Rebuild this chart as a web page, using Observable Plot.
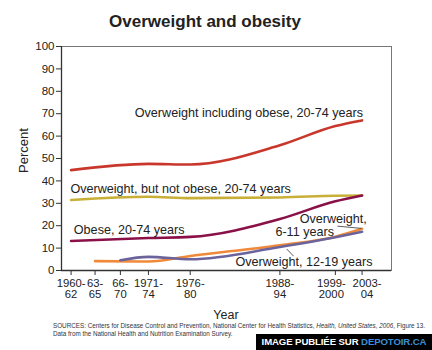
<!DOCTYPE html>
<html><head><meta charset="utf-8">
<script src="https://cdn.jsdelivr.net/npm/d3@7"></script>
<script src="https://cdn.jsdelivr.net/npm/@observablehq/plot@0.6"></script>
<style>
body{margin:0;background:#fff;font-family:"Liberation Sans",Arial,sans-serif;}
#wrap{position:relative;width:432px;height:350px;overflow:hidden;background:#fff;}
#title{position:absolute;left:0;width:410px;top:12px;text-align:center;font-weight:bold;font-size:17px;color:#222;}
#xlab{position:absolute;left:61px;width:330px;top:308px;text-align:center;font-size:12.5px;color:#222;}
#src{position:absolute;left:53px;top:322px;font-size:6.3px;line-height:8px;color:#333;white-space:nowrap;}
#wm{position:absolute;left:256px;top:334px;width:176px;height:16px;background:#000;color:#fff;font-size:9.6px;font-weight:bold;line-height:16px;text-align:center;white-space:nowrap;letter-spacing:-0.1px;}
#wm span{color:#3d8fd6;}
#plot{position:absolute;left:0;top:0;}
</style></head><body>
<div id="wrap">
<div id="plot"></div>
<div id="title">Overweight and obesity</div>
<div id="xlab">Year</div>
<div id="src">SOURCES: Centers for Disease Control and Prevention, National Center for Health Statistics, <i>Health, United States, 2006</i>, Figure 13.<br>Data from the National Health and Nutrition Examination Survey.</div>
<div id="wm">IMAGE PUBLIÉE SUR <span>DEPOTOIR.CA</span></div>
</div>
<script>
// survey periods and their positions on the year axis
const periods = ["1960-62","1963-65","1966-70","1971-74","1976-80","1988-94","1999-2000","2003-04"];
const periodYear = [1961, 1964.5, 1968.2, 1972.3, 1978.4, 1991.5, 1999.6, 2003.5];
const tickLabels = ["1960-\n62","63-\n65","66-\n70","1971-\n74","1976-\n80","1988-\n94","1999-\n2000","2003-\n04"];

// series values (percent); null = no survey for that group
const overweightInclObese = [44.8, null, null, 47.6, 47.3, 55.9, 64.5, 67.0];
const overweightNotObese  = [31.5, null, null, 32.9, 32.3, 32.6, 33.4, 33.5];
const obeseAdults         = [13.2, null, null, 14.5, 15.0, 23.0, 30.9, 33.5];
const overweight6to11     = [null, 4.2, null, 4.0, 6.5, 11.3, 15.1, 18.6];
const overweight12to19    = [null, null, 4.6, 6.1, 5.0, 10.5, 14.8, 17.3];

const seriesNames  = ["inclObese","notObese","obese","6-11","12-19"];
const seriesValues = [overweightInclObese, overweightNotObese, obeseAdults, overweight6to11, overweight12to19];
const seriesColors = ["#c9372c","#c8b038","#8a1148","#f08a3a","#6b649c"];

// label annotations (year, percent)
const labelTexts   = ["Overweight including obese, 20-74 years","Overweight, but not obese, 20-74 years","Obese, 20-74 years","Overweight,","6-11 years","Overweight, 12-19 years"];
const labelYear    = [1970.3, 1960.9, 1961.4, 2004.2, 1999.4, 1985.0];
const labelPercent = [70.2, 36.6, 17.9, 23.0, 17.4, 3.7];
const labelAnchor  = ["start","start","start","end","end","start"];
const leaderX1 = [1999.9, 1992.5], leaderY1 = [19.8, 9.6];
const leaderX2 = [2003.4, 1993.5], leaderY2 = [18.8, 6.4];

const rows = [];
seriesNames.forEach((s, i) => seriesValues[i].forEach((v, j) => {
  if (v != null) rows.push({series: s, year: periodYear[j], value: v, period: periods[j]});
}));
const labels = labelTexts.map((t, i) => ({t, x: labelYear[i], y: labelPercent[i], a: labelAnchor[i]}));
const leaders = leaderX1.map((x, i) => ({x1: x, y1: leaderY1[i], x2: leaderX2[i], y2: leaderY2[i]}));
const fmt = (d) => tickLabels[periodYear.indexOf(d)];

const chart = Plot.plot({
  width: 432, height: 350,
  marginTop: 46, marginLeft: 61, marginRight: 41, marginBottom: 80,
  style: {fontFamily: '"Liberation Sans", Arial, sans-serif', fontSize: "12px", color: "#222", background: "transparent"},
  x: {domain: [1959.6, 2007.8], label: null},
  y: {domain: [0, 100], label: null},
  color: {domain: seriesNames, range: seriesColors},
  marks: [
    Plot.frame({stroke: "#777", strokeWidth: 1}),
    Plot.axisX({ticks: periodYear, text: null, tickSize: 5, label: null, stroke: "#333"}),
    Plot.axisX({ticks: periodYear.slice(0, 6), tickFormat: fmt, tickSize: 0, tickPadding: 8, fontSize: 11.3, label: null}),
    Plot.axisX({ticks: [periodYear[6]], tickFormat: fmt, tickSize: 0, tickPadding: 8, fontSize: 11.3, label: null, dx: -4}),
    Plot.axisX({ticks: [periodYear[7]], tickFormat: fmt, tickSize: 0, tickPadding: 8, fontSize: 11.3, label: null, dx: 5}),
    Plot.axisY({ticks: d3.range(0, 101, 10), tickSize: 5, fontSize: 11.5, label: null, tickPadding: 2, stroke: "#333"}),
    Plot.ruleX([1959.6], {stroke: "#333", strokeWidth: 1.3}),
    Plot.ruleY([0], {stroke: "#333", strokeWidth: 1.3}),
    Plot.line(rows, {x: "year", y: "value", z: "series", stroke: "series", strokeWidth: 2.6, curve: "monotone-x"}),
    Plot.link(leaders, {x1: "x1", y1: "y1", x2: "x2", y2: "y2", stroke: "#333", strokeWidth: 0.8}),
    Plot.text(labels.filter(d => d.a === "start"), {x: "x", y: "y", text: "t", textAnchor: "start", fontSize: 12.6, fill: "#222"}),
    Plot.text(labels.filter(d => d.a === "end"), {x: "x", y: "y", text: "t", textAnchor: "end", fontSize: 12.6, fill: "#222"}),
    Plot.text(["Percent"], {frameAnchor: "left", textAnchor: "middle", dx: -38, dy: -8, rotate: -90, fontSize: 13, fill: "#222"})
  ]
});
document.getElementById("plot").appendChild(chart);
</script>
</body></html>
